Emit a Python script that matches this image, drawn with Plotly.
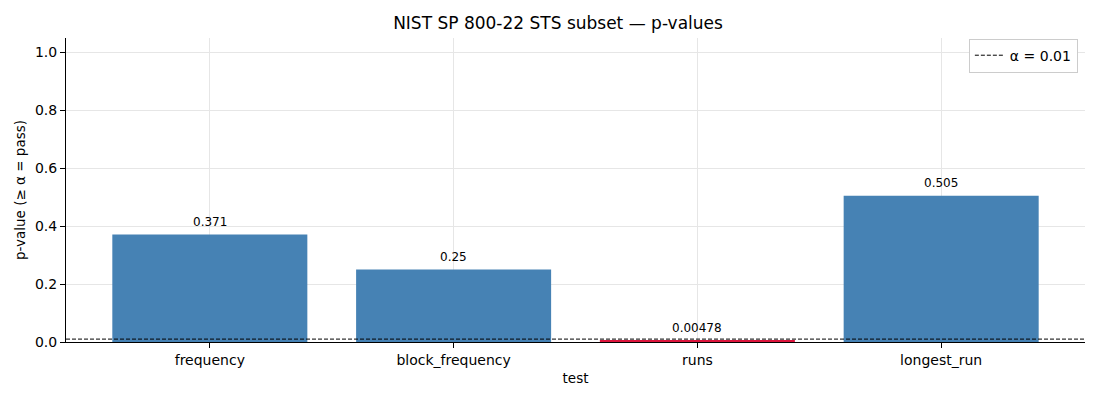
import plotly.graph_objects as go

# NIST STS subset results
tests = ["frequency", "block_frequency", "runs", "longest_run"]
p_values = [0.371, 0.25, 0.00478, 0.505]
alpha = 0.01

bar_colors = ["#4682b4" if p >= alpha else "#dc143c" for p in p_values]
xs = list(range(len(tests)))
x_range = [-0.59, len(tests) - 1 + 0.59]

fig = go.Figure()
fig.add_trace(go.Bar(
    x=xs, y=p_values, width=0.8,
    marker=dict(color=bar_colors, line=dict(width=0)),
    showlegend=False, hoverinfo="x+y",
))
fig.add_trace(go.Scatter(
    x=x_range, y=[alpha, alpha], mode="lines",
    line=dict(color="black", width=1, dash="4px,2px"),
    name=f"α = {alpha}",
))

for x, p in zip(xs, p_values):
    fig.add_annotation(
        x=x, y=p, text=f"{p:.3g}", showarrow=False,
        yanchor="bottom", yshift=4, font=dict(size=12, color="black"),
    )

# page body has an 8px margin, so margins are offset to line up the plot area
fig.update_layout(
    width=1100, height=400,
    margin=dict(l=58, r=23, t=30, b=66),
    paper_bgcolor="white", plot_bgcolor="white",
    font=dict(family="DejaVu Sans", size=14, color="black"),
    title=dict(text="NIST SP 800-22 STS subset — p-values",
               x=0.5, xanchor="center", y=0.963, yanchor="middle",
               font=dict(size=17)),
    legend=dict(x=0.993, y=0.998, xanchor="right", yanchor="top",
                bordercolor="#cccccc", borderwidth=1, bgcolor="white",
                font=dict(size=14)),
    bargap=0.2,
)
fig.update_xaxes(
    range=x_range, tickvals=xs, ticktext=tests, automargin=False,
    title=dict(text="test", standoff=6, font=dict(size=13.5)),
    showline=True, linecolor="black", linewidth=1,
    ticks="outside", ticklen=5, tickcolor="black",
    showgrid=True, gridcolor="#e6e6e6", zeroline=False,
)
fig.update_yaxes(
    range=[0, 1.05], tickvals=[0, 0.2, 0.4, 0.6, 0.8, 1.0], tickformat=".1f",
    automargin=False,
    title=dict(text="p-value (≥ α = pass)", standoff=6, font=dict(size=13.5)),
    showline=True, linecolor="black", linewidth=1,
    ticks="outside", ticklen=5, tickcolor="black",
    showgrid=True, gridcolor="#e6e6e6", zeroline=False,
)

fig.write_html("out.html")
